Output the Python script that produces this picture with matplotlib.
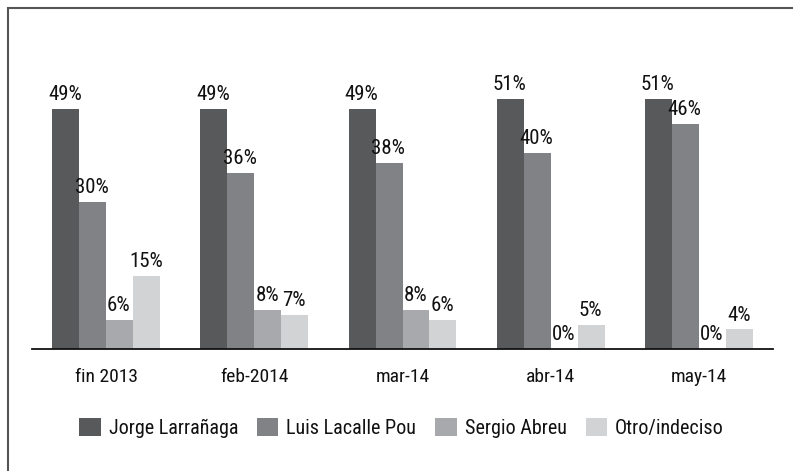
import matplotlib
matplotlib.use("Agg")
import matplotlib.pyplot as plt
import numpy as np
from matplotlib.patches import Rectangle

categories = ["fin 2013", "feb-2014", "mar-14", "abr-14", "may-14"]
series_names = ["Jorge Larrañaga", "Luis Lacalle Pou", "Sergio Abreu", "Otro/indeciso"]
larranaga = [49, 49, 49, 51, 51]
lacalle_pou = [30, 36, 38, 40, 46]
abreu = [6, 8, 8, 0, 0]
otro = [15, 7, 6, 5, 4]
colors = ["#58595b", "#808285", "#a7a9ac", "#d1d3d4"]

plt.rcParams["font.family"] = ["Roboto Condensed", "DejaVu Sans"]

W, H = 793, 471
fig = plt.figure(figsize=(W / 100, H / 100), dpi=100)
fig.patch.set_facecolor("white")

# border (top and left visible)
fig.patches.append(Rectangle((7.5 / W, -0.1), 1.2, 1 - 7.5 / H + 0.1, transform=fig.transFigure,
                             fill=False, edgecolor="#555555", linewidth=1.5))

ax_left, ax_right = 32, 773
base_y = 349
scale = 4.9  # px per percent
ymax = 60
ax = fig.add_axes([ax_left / W, 1 - base_y / H, (ax_right - ax_left) / W, ymax * scale / H])
ax.set_xlim(-0.5, len(categories) - 0.5)
ax.set_ylim(0, ymax)
for s in ["top", "right", "left"]:
    ax.spines[s].set_visible(False)
ax.spines["bottom"].set_linewidth(1.3)
ax.spines["bottom"].set_color("#111111")
ax.set_yticks([])
ax.tick_params(axis="x", length=0, pad=14, labelsize=14, labelcolor="#111111")
x = np.arange(len(categories))
ax.set_xticks(x)
ax.set_xticklabels(categories)

data = [larranaga, lacalle_pou, abreu, otro]
bw = 0.182
for i, (vals, name, c) in enumerate(zip(data, series_names, colors)):
    pos = x + (i - 1.5) * bw
    ax.bar(pos, vals, width=bw, color=c, label=name, zorder=2)
    for p, v in zip(pos, vals):
        ax.annotate(f"{v}%", (p, v), xytext=(-0.5, 3.5), textcoords="offset points",
                    ha="center", va="bottom", fontsize=15, color="#111111")

leg = fig.legend(loc="center", bbox_to_anchor=(0.5 * (75 + 728) / W, 1 - 428 / H), ncol=4,
                 frameon=False, fontsize=14.5, handlelength=1.05, handleheight=1.0,
                 handletextpad=0.4, columnspacing=0.95, borderaxespad=0)
for t in leg.get_texts():
    t.set_color("#111111")

fig.savefig("out.png", dpi=100)
